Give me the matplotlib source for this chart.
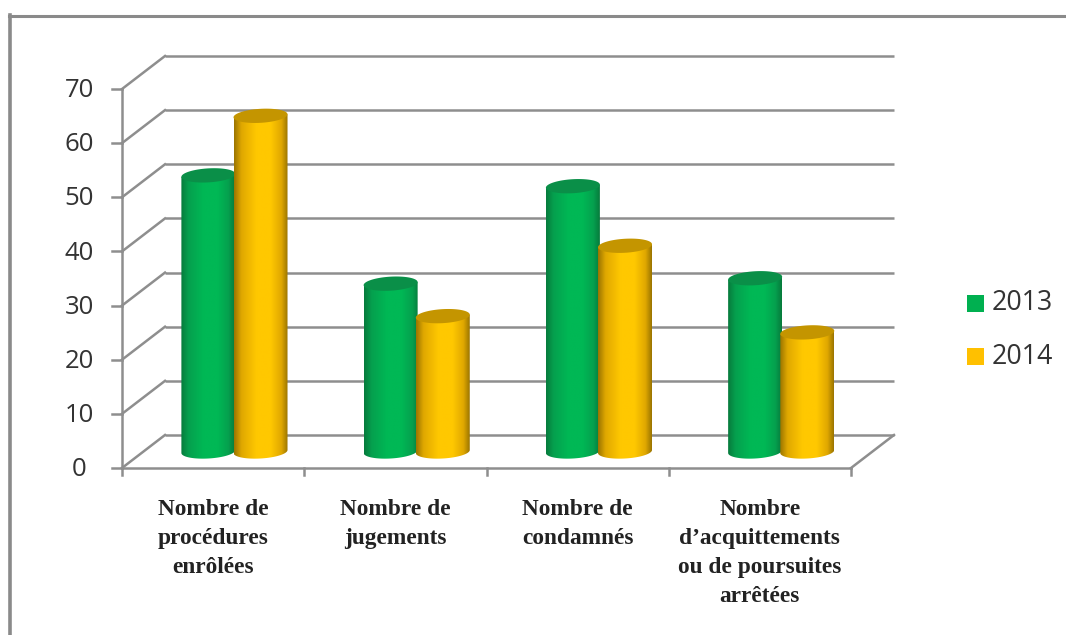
import numpy as np
import matplotlib.pyplot as plt
from matplotlib.colors import LinearSegmentedColormap
from matplotlib.patches import Polygon, Rectangle
from matplotlib.lines import Line2D

# Donnees
categories = ['Nombre de\nprocédures\nenrôlées',
              'Nombre de\njugements',
              'Nombre de\ncondamnés',
              "Nombre\nd’acquittements\nou de poursuites\narrêtées"]
valeurs_2013 = [51, 31, 49, 32]
valeurs_2014 = [62, 25, 38, 22]
graduations = [0, 10, 20, 30, 40, 50, 60, 70]

L, H = 1066, 635
GRIS = '#8e8e8e'

fig = plt.figure(figsize=(L / 100, H / 100), dpi=100)
fig.patch.set_facecolor('white')

# Le plan avant du repere : x 122..851 px, y 468..89 px
ax = fig.add_axes([122 / L, 1 - 468 / H, 729 / L, 379 / H])
ax.set_xlim(0, 4)
ax.set_ylim(0, 70)
ax.axis('off')

# Decalage de la perspective (en unites de donnees)
dx = 43 / 182.25
dy = 33 / 5.414

# Parois : lignes de grille
for g in graduations:
    ax.plot([0, dx], [g, g + dy], color=GRIS, lw=1.8, clip_on=False, zorder=1)
    ax.plot([dx, 4 + dx], [g + dy, g + dy], color=GRIS, lw=1.8, clip_on=False, zorder=1,
            solid_capstyle='butt')
    ax.plot([-0.055, 0], [g, g], color=GRIS, lw=1.8, clip_on=False, zorder=1)
ax.plot([4, 4 + dx], [0, dy], color=GRIS, lw=1.8, clip_on=False, zorder=1)
ax.plot([0, 4], [0, 0], color=GRIS, lw=1.8, clip_on=False, zorder=1)
ax.plot([0, 0], [0, 70], color=GRIS, lw=1.8, clip_on=False, zorder=1)
for i in range(5):
    ax.plot([i, i], [0, -1.3], color=GRIS, lw=1.8, clip_on=False, zorder=1)

# Cylindres (ellipses un peu inclinees comme sur l'original)
largeur = 54 / 182.25
base = 16.5 / 5.414
ry = 7 / 5.414
pente = 1.5 / 5.414


def cylindre(xc, valeur, sombre, moyen, clair, dessus, z):
    cmap = LinearSegmentedColormap.from_list(
        'c', [(0, sombre), (0.14, moyen), (0.42, clair), (0.68, clair), (0.88, moyen), (1, sombre)])
    profil = np.linspace(0, 1, 256).reshape(1, -1)
    rx = largeur / 2
    haut = base + valeur
    th = np.linspace(np.pi, 2 * np.pi, 60)
    bas_x = xc + rx * np.cos(th)
    bas_y = base + ry * np.sin(th) + pente * np.cos(th)
    contour = np.column_stack([np.r_[bas_x, xc + rx, xc - rx],
                               np.r_[bas_y, haut + pente, haut - pente]])
    poly = Polygon(contour, closed=True, transform=ax.transData, fc='none', ec='none')
    ax.add_patch(poly)
    im = ax.imshow(profil, cmap=cmap, vmin=0, vmax=1, aspect='auto',
                   extent=[xc - rx, xc + rx, base - ry - pente, haut + pente],
                   zorder=z, interpolation='bilinear')
    im.set_clip_path(poly)
    t = np.linspace(0, 2 * np.pi, 120)
    dessus_xy = np.column_stack([xc + rx * np.cos(t), haut + ry * np.sin(t) + pente * np.cos(t)])
    ax.add_patch(Polygon(dessus_xy, closed=True, fc=dessus, ec='none', zorder=z + 0.1))


for i in range(4):
    cylindre(i + 0.474, valeurs_2013[i], '#077a3c', '#05a04e', '#00b855', '#0a8f48', 3)
    cylindre(i + 0.76, valeurs_2014[i], '#9a7400', '#e0a800', '#ffc800', '#c49500', 4)
ax.set_xlim(0, 4)
ax.set_ylim(0, 70)

# Etiquettes
for g in graduations:
    ax.text(-0.235, g - 0.3, str(g), ha='center', va='center', fontsize=18.5,
            family='Open Sans', color='#333333', clip_on=False)
for i, c in enumerate(categories):
    fig.text((122 + 182.25 * (i + 0.5)) / L, 1 - 499 / H, c, ha='center', va='top',
             fontsize=16.8, family='Liberation Serif', weight='bold',
             color='#222222', linespacing=1.5)

# Legende
for (nom, couleur, y) in [('2013', '#00b050', 303.5), ('2014', '#ffc000', 356.5)]:
    fig.add_artist(Rectangle((967 / L, 1 - (y + 8.5) / H), 17 / L, 17 / H, fc=couleur, ec='none',
                             transform=fig.transFigure))
    fig.text(992 / L, 1 - y / H, nom, ha='left', va='center', fontsize=19.3,
             family='Open Sans', color='#333333')

# Cadre de l'image
fig.add_artist(Line2D([10 / L, 10 / L], [0, 1 - 15 / H], color='#8a8a8a', lw=2.6, transform=fig.transFigure))
fig.add_artist(Line2D([8.5 / L, 1], [1 - 15.5 / H, 1 - 15.5 / H], color='#8a8a8a', lw=2.2, transform=fig.transFigure))

fig.savefig('out.png', dpi=100)
